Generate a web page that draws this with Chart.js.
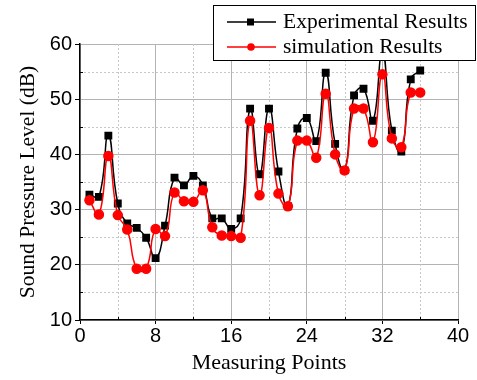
<!DOCTYPE html>
<html>
<head>
<meta charset="utf-8">
<script src="https://cdn.jsdelivr.net/npm/chart.js@4"></script>
<style>
  html, body { margin: 0; padding: 0; background: #fff; }
  #wrap { width: 477px; height: 380px; }
</style>
</head>
<body>
<div id="wrap"><canvas id="chart" width="477" height="380"></canvas></div>
<script>
// --- data ---
const points = [1, 2, 3, 4, 5, 6, 7, 8, 9, 10, 11, 12, 13, 14, 15, 16, 17, 18,
                19, 20, 21, 22, 23, 24, 25, 26, 27, 28, 29, 30, 31, 32, 33, 34, 35, 36];
const experimental = [32.7, 32.3, 43.4, 31.1, 27.5, 26.7, 24.9, 21.2, 27.1, 35.8,
                      34.4, 36.1, 34.4, 28.4, 28.4, 26.5, 28.4, 48.3, 36.4, 48.3,
                      36.9, 30.6, 44.7, 46.6, 42.4, 54.8, 41.9, 37.1, 50.7, 51.9,
                      46.1, 58.5, 44.3, 40.5, 53.6, 55.2];
const simulation = [31.7, 29.1, 39.7, 29.0, 26.4, 19.3, 19.3, 26.5, 25.2, 33.1,
                    31.5, 31.4, 33.5, 26.8, 25.3, 25.2, 24.9, 46.1, 32.6, 44.8,
                    32.9, 30.6, 42.5, 42.5, 39.4, 51.0, 40.0, 37.1, 48.3, 48.3,
                    42.2, 54.5, 42.9, 41.3, 51.2, 51.2];
const xMinorTicks = [4, 12, 20, 28, 36];
const yMinorTicks = [15, 25, 35, 45, 55];

const serif = "'Liberation Serif', 'Times New Roman', serif";
const sans = "'Liberation Sans', Arial, sans-serif";

const toXY = (ys) => ys.map((y, i) => ({ x: points[i], y: y }));

// dotted minor grid + little inward minor ticks
const minorGrid = {
    id: 'minorGrid',
    beforeDatasetsDraw(chart) {
        const { ctx, chartArea: a, scales: { x, y } } = chart;
        ctx.save();
        ctx.strokeStyle = '#c8c8c8';
        ctx.lineWidth = 1;
        ctx.setLineDash([2, 2]);
        xMinorTicks.forEach(v => {
            const px = Math.round(x.getPixelForValue(v)) + 0.5;
            ctx.beginPath(); ctx.moveTo(px, a.top); ctx.lineTo(px, a.bottom); ctx.stroke();
        });
        yMinorTicks.forEach(v => {
            const py = Math.round(y.getPixelForValue(v)) + 0.5;
            ctx.beginPath(); ctx.moveTo(a.left, py); ctx.lineTo(a.right, py); ctx.stroke();
        });
        ctx.setLineDash([]);
        ctx.strokeStyle = '#000';
        xMinorTicks.forEach(v => {
            const px = Math.round(x.getPixelForValue(v)) + 0.5;
            ctx.beginPath(); ctx.moveTo(px, a.bottom); ctx.lineTo(px, a.bottom - 3); ctx.stroke();
        });
        yMinorTicks.forEach(v => {
            const py = Math.round(y.getPixelForValue(v)) + 0.5;
            ctx.beginPath(); ctx.moveTo(a.left, py); ctx.lineTo(a.left + 3, py); ctx.stroke();
        });
        ctx.restore();
    }
};

// boxed legend sitting over the top right of the plot
const boxLegend = {
    id: 'boxLegend',
    afterDraw(chart) {
        const ctx = chart.ctx;
        ctx.save();
        ctx.fillStyle = '#fff';
        ctx.fillRect(213, 5, 263, 56);
        ctx.strokeStyle = '#000';
        ctx.lineWidth = 1;
        ctx.strokeRect(213.5, 5.5, 262, 55);
        const rows = [22, 47];
        chart.data.datasets.forEach((ds, i) => {
            const yy = rows[i];
            ctx.strokeStyle = ds.borderColor;
            ctx.lineWidth = 1.5;
            ctx.beginPath(); ctx.moveTo(227, yy); ctx.lineTo(276, yy); ctx.stroke();
            ctx.fillStyle = ds.backgroundColor;
            if (ds.pointStyle === 'rect') {
                ctx.fillRect(247, yy - 3.5, 7, 7);
            } else {
                ctx.beginPath(); ctx.arc(251, yy, 3.8, 0, Math.PI * 2); ctx.fill();
            }
            ctx.fillStyle = '#000';
            ctx.font = '21.5px ' + serif;
            ctx.textBaseline = 'middle';
            ctx.fillText(ds.label, 283, yy);
        });
        ctx.restore();
    }
};

new Chart(document.getElementById('chart'), {
    type: 'line',
    data: {
        datasets: [
            {
                label: 'Experimental Results',
                data: toXY(experimental),
                borderColor: '#000',
                backgroundColor: '#000',
                borderWidth: 1.5,
                pointStyle: 'rect',
                pointRadius: 4.5,
                tension: 0.5,
                order: 1
            },
            {
                label: 'simulation Results',
                data: toXY(simulation),
                borderColor: '#ff0000',
                backgroundColor: '#ff0000',
                borderWidth: 1.5,
                pointStyle: 'circle',
                pointRadius: 4.5,
                tension: 0.5,
                order: 0
            }
        ]
    },
    options: {
        responsive: false,
        animation: false,
        layout: { padding: { top: 44, right: 19, left: 0, bottom: 0 } },
        plugins: { legend: { display: false }, tooltip: { enabled: false } },
        scales: {
            x: {
                type: 'linear',
                min: 0, max: 40,
                ticks: { stepSize: 8, color: '#000', font: { family: sans, size: 20 }, padding: 0, maxRotation: 0 },
                grid: { color: '#b4b4b4', lineWidth: 1, tickColor: '#000', tickLength: 4 },
                border: { color: '#000', width: 1.5 },
                title: { display: true, text: 'Measuring Points', color: '#000', font: { family: serif, size: 22 }, padding: { top: 0, bottom: 4 } },
                afterFit(scale) { scale.height = 60; }
            },
            y: {
                min: 10, max: 60,
                ticks: { stepSize: 10, color: '#000', font: { family: sans, size: 20 }, padding: 3 },
                grid: { color: '#b4b4b4', lineWidth: 1, tickColor: '#000', tickLength: 5 },
                border: { color: '#000', width: 1.5 },
                title: { display: true, text: 'Sound Pressure Level (dB)', color: '#000', font: { family: serif, size: 21.5 }, padding: { top: 15, bottom: 0 } },
                afterFit(scale) { scale.width = 80; }
            }
        }
    },
    plugins: [minorGrid, boxLegend]
});
</script>
</body>
</html>
